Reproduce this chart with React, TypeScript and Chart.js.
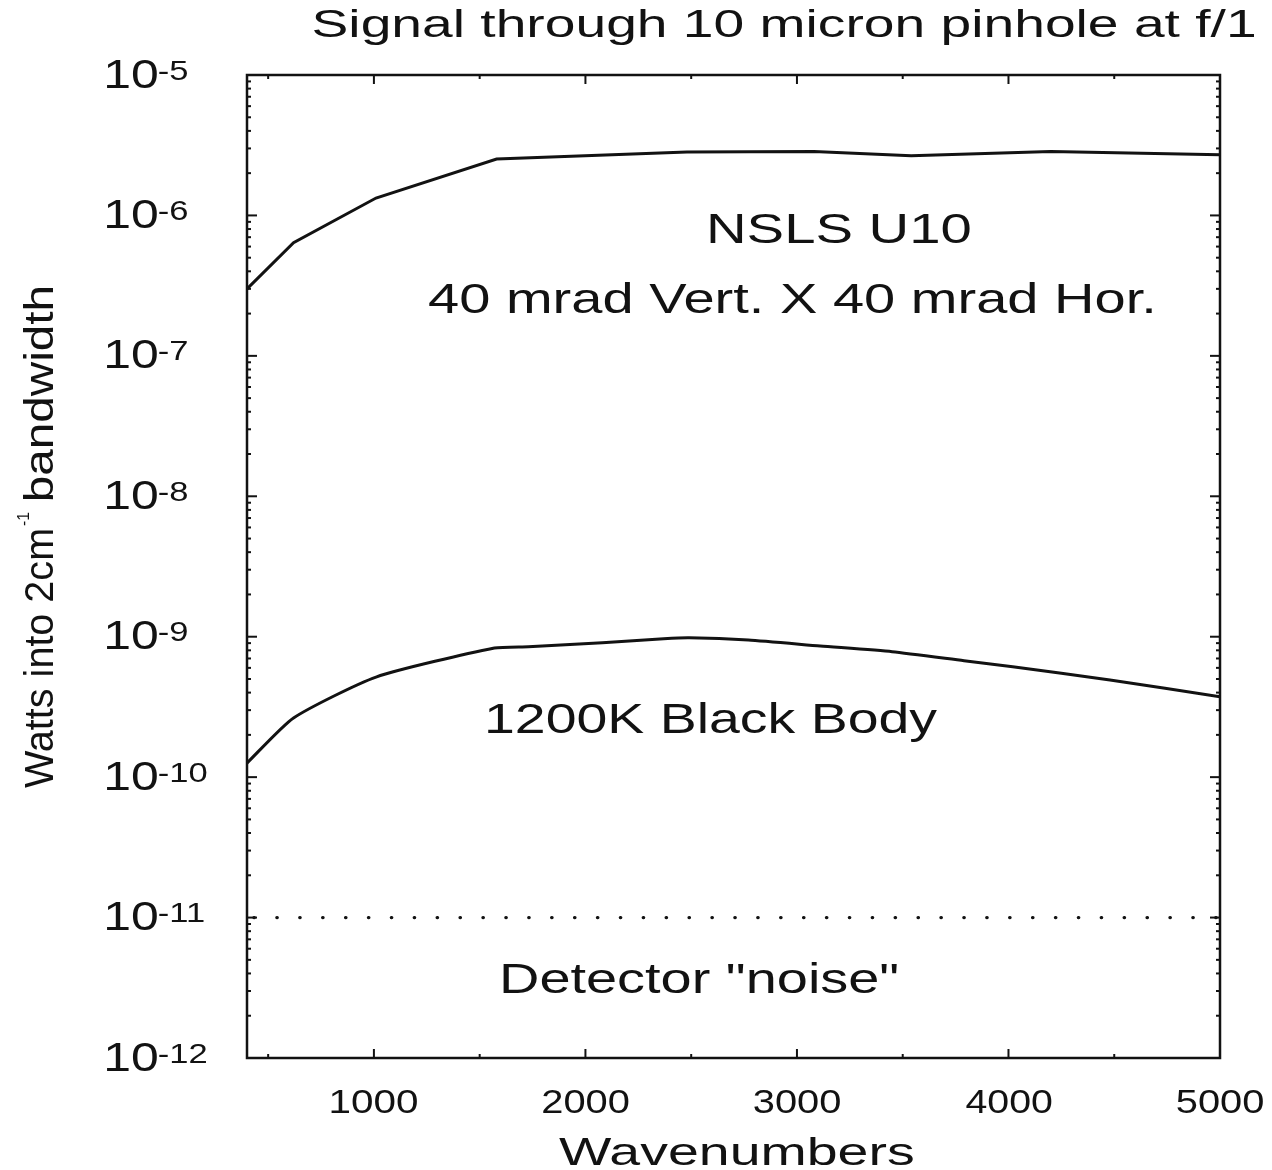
import React, { useEffect, useRef } from "react";
import { Chart, registerables } from "chart.js";

Chart.register(...registerables);

// ---- Data ----
const u10Wavenumbers = [400, 620, 1010, 1580, 2480, 3080, 3540, 4200, 5000];
const u10Watts = [3.0e-7, 6.4e-7, 1.33e-6, 2.52e-6, 2.83e-6, 2.85e-6, 2.66e-6, 2.85e-6, 2.71e-6];

const bbWavenumbers = [400, 620, 1010, 1570, 1730, 2080, 2370, 2490, 2770, 3110, 3450, 3790, 4020, 4480, 5000];
const bbWatts = [1.26e-10, 2.64e-10, 5.16e-10, 8.31e-10, 8.49e-10, 9.06e-10, 9.68e-10, 9.84e-10, 9.48e-10, 8.59e-10, 7.82e-10, 6.75e-10, 6.12e-10, 4.92e-10, 3.74e-10];

const noiseWavenumbers = [400, 5000];
const noiseWatts = [1e-11, 1e-11];

const xMajorTicks = [1000, 2000, 3000, 4000, 5000];
const xMinorTicks = [500, 1500, 2500, 3500, 4500];
const yTickExponents = [-5, -6, -7, -8, -9, -10, -11, -12];
const yMinorMultipliers = [2, 3, 4, 5, 6, 7, 8, 9];

const titleText = "Signal through 10 micron pinhole at f/1";
const xTitle = "Wavenumbers";
const yTitleParts = ["Watts into 2cm", "-1", " bandwidth"];
const labelU10a = "NSLS U10";
const labelU10b = "40 mrad Vert. X 40 mrad Hor.";
const labelBB = "1200K Black Body";
const labelNoise = 'Detector "noise"';

const FONT = '"Liberation Sans", Arial, Helvetica, sans-serif';
const INK = "#121212";

function fitText(ctx: CanvasRenderingContext2D, text: string, left: number, baseline: number, size: number, width: number) {
  ctx.font = `${size}px ${FONT}`;
  const m = ctx.measureText(text);
  const vis = m.actualBoundingBoxLeft + m.actualBoundingBoxRight;
  const sx = width / vis;
  ctx.save();
  ctx.translate(left + m.actualBoundingBoxLeft * sx, baseline);
  ctx.scale(sx, 1);
  ctx.fillText(text, 0, 0);
  ctx.restore();
  return sx;
}

function drawScaled(ctx: CanvasRenderingContext2D, text: string, left: number, baseline: number, size: number, sx: number) {
  ctx.font = `${size}px ${FONT}`;
  const m = ctx.measureText(text);
  ctx.save();
  ctx.translate(left + m.actualBoundingBoxLeft * sx, baseline);
  ctx.scale(sx, 1);
  ctx.fillText(text, 0, 0);
  ctx.restore();
}

const decorPlugin = {
  id: "decor",
  afterDraw(chart: any) {
    const { ctx, chartArea: a, scales } = chart;
    const x = scales.x;
    const y = scales.y;
    ctx.save();
    ctx.strokeStyle = INK;
    ctx.fillStyle = INK;
    ctx.lineWidth = 2.5;
    ctx.strokeRect(a.left, a.top, a.right - a.left, a.bottom - a.top);

    ctx.lineWidth = 2;
    const seg = (x1: number, y1: number, x2: number, y2: number) => {
      ctx.beginPath();
      ctx.moveTo(x1, y1);
      ctx.lineTo(x2, y2);
      ctx.stroke();
    };
    // x ticks (bottom and top, inward)
    xMajorTicks.forEach((v) => {
      const px = x.getPixelForValue(v);
      seg(px, a.bottom, px, a.bottom - 9);
      seg(px, a.top, px, a.top + 9);
    });
    xMinorTicks.forEach((v) => {
      const px = x.getPixelForValue(v);
      seg(px, a.bottom, px, a.bottom - 4);
      seg(px, a.top, px, a.top + 4);
    });
    // y ticks (left and right, inward)
    yTickExponents.forEach((e) => {
      const py = y.getPixelForValue(Math.pow(10, e));
      seg(a.left, py, a.left + 10, py);
      seg(a.right, py, a.right - 10, py);
    });
    yTickExponents.slice(1).forEach((e) => {
      yMinorMultipliers.forEach((m) => {
        const py = y.getPixelForValue(m * Math.pow(10, e));
        seg(a.left, py, a.left + 4, py);
        seg(a.right, py, a.right - 4, py);
      });
    });

    ctx.textBaseline = "alphabetic";
    ctx.textAlign = "left";

    // y tick labels with superscript exponent
    ctx.font = `40px ${FONT}`;
    yTickExponents.forEach((e) => {
      const py = y.getPixelForValue(Math.pow(10, e));
      const sx = fitText(ctx, "10", 107, py + 12.5, 40.5, 50);
      drawScaled(ctx, String(e), 159, py + 4.5, 28, sx);
    });

    // x tick labels
    xMajorTicks.forEach((v) => {
      const px = x.getPixelForValue(v);
      fitText(ctx, String(v), px - 43, 1113, 33, 87);
    });

    // axis titles
    fitText(ctx, xTitle, 559, 1165, 39, 355);
    ctx.save();
    ctx.translate(53, 788);
    ctx.rotate(-Math.PI / 2);
    fitText(ctx, yTitleParts[0], 0, 0, 41, 258);
    fitText(ctx, yTitleParts[1], 262, -24, 16, 14);
    fitText(ctx, yTitleParts[2].trim(), 288, 0, 41, 213);
    ctx.restore();

    // chart title
    fitText(ctx, titleText, 313, 37, 38, 942);

    // annotations
    fitText(ctx, labelU10a, 710, 243, 42, 260);
    fitText(ctx, labelU10b, 428, 313, 42, 724);
    fitText(ctx, labelBB, 488, 733, 42, 449);
    fitText(ctx, labelNoise, 503, 993, 42, 395);

    ctx.restore();
  },
};

export default function App() {
  const canvasRef = useRef<HTMLCanvasElement | null>(null);

  useEffect(() => {
    if (!canvasRef.current) return;
    const toPts = (xs: number[], ys: number[]) => xs.map((v, i) => ({ x: v, y: ys[i] }));
    const chart = new Chart(canvasRef.current, {
      type: "line",
      data: {
        datasets: [
          {
            label: "NSLS U10",
            data: toPts(u10Wavenumbers, u10Watts),
            borderColor: INK,
            borderWidth: 3,
            pointRadius: 0,
            tension: 0,
          },
          {
            label: "1200K Black Body",
            data: toPts(bbWavenumbers, bbWatts),
            borderColor: INK,
            borderWidth: 3,
            pointRadius: 0,
            tension: 0.2,
          },
          {
            label: "Detector noise",
            data: toPts(noiseWavenumbers, noiseWatts),
            borderColor: INK,
            borderWidth: 3.2,
            borderDash: [0.5, 22.4],
            borderDashOffset: 16,
            borderCapStyle: "round",
            pointRadius: 0,
          },
        ],
      },
      options: {
        responsive: false,
        animation: false,
        layout: { padding: { left: 0, top: 75, right: 52, bottom: 0 } },
        plugins: {
          legend: { display: false },
          title: { display: false },
          tooltip: { enabled: false },
        },
        scales: {
          x: {
            type: "linear",
            min: 400,
            max: 5000,
            grid: { display: false },
            border: { display: false },
            ticks: { display: false },
            afterFit: (s: any) => {
              s.height = 112;
            },
          },
          y: {
            type: "logarithmic",
            min: 1e-12,
            max: 1e-5,
            grid: { display: false },
            border: { display: false },
            ticks: { display: false },
            afterFit: (s: any) => {
              s.width = 247;
            },
          },
        },
      },
      plugins: [decorPlugin],
    });
    return () => chart.destroy();
  }, []);

  return (
    <div style={{ position: "fixed", left: 0, top: 0, width: 1272, height: 1170, background: "#fff" }}>
      <canvas ref={canvasRef} width={1272} height={1170} />
    </div>
  );
}
